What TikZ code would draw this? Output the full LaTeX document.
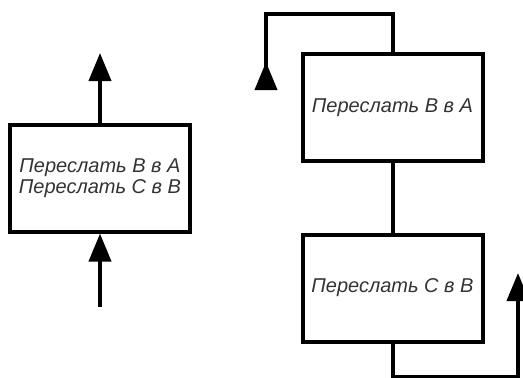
\documentclass[tikz,border=0pt]{standalone}
\usepackage{fontspec}
\setmainfont{Liberation Sans}
\usetikzlibrary{arrows.meta}

\tikzset{
	opbox/.style={draw, line width=4pt, minimum width=180pt, minimum height=107pt,
		font=\fontsize{20}{21.5}\selectfont\itshape, text=black!80, align=center, inner sep=0pt},
	flow/.style={line width=4pt},
	tip/.style={-{Triangle[width=22pt, length=28pt]}},
	backtip/.style={-{Triangle[width=22pt, length=28pt, reversed]}}
}

\begin{document}
\begin{tikzpicture}[x=1pt, y=-1pt]
	\useasboundingbox (0,0) rectangle (523,378);
	% one box with both moves
	\node [opbox] (both) at (100,178) {Переслать B в A\\Переслать C в B};
	\coordinate (inBoth) at (100,307);
	\coordinate (outBoth) at (100,53);
	\draw [flow, tip] (inBoth) -- (both.south);
	\draw [flow, tip] (both.north) -- (outBoth);
	% two boxes, one move each
	\node [opbox] (moveBA) at (392.5,107.5) {Переслать B в A};
	\node [opbox] (moveCB) at (392.5,288) {Переслать C в B};
	\coordinate (loopBA) at (266,90);
	\coordinate (loopCB) at (518,273);
	\draw [flow] (moveBA) -- (moveCB);
	\draw [flow, backtip] (moveBA.north) -- ++(0,-38) -| (loopBA);
	\draw [flow, tip] (moveCB.south) -- ++(0,33) -| (loopCB);
\end{tikzpicture}
\end{document}
